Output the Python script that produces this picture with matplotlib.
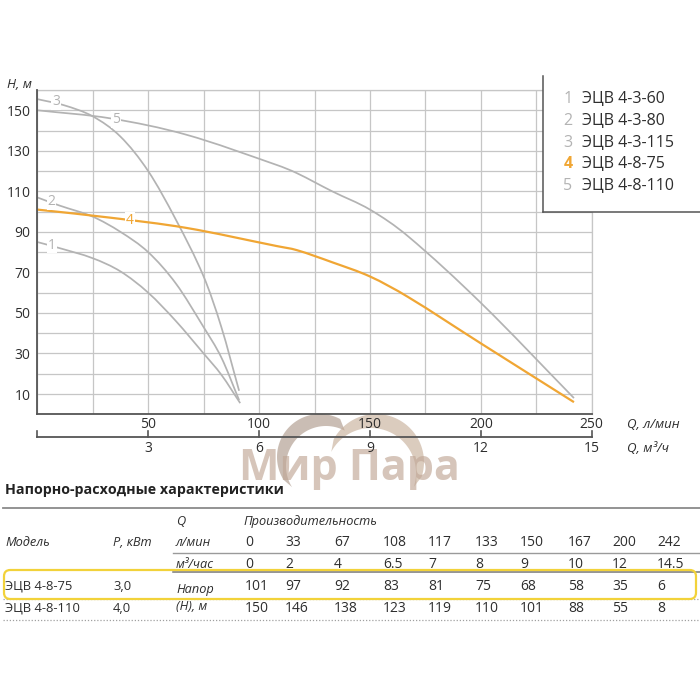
import numpy as np
import matplotlib
matplotlib.use('Agg')
import matplotlib.pyplot as plt
from matplotlib.patches import Rectangle, FancyBboxPatch, Polygon, PathPatch
from matplotlib.path import Path
from matplotlib.lines import Line2D
import matplotlib.transforms as mtransforms

plt.rcParams['font.family'] = ['Open Sans', 'DejaVu Sans']

# ---------------- data ----------------
legend_models = ['ЭЦВ 4-3-60', 'ЭЦВ 4-3-80', 'ЭЦВ 4-3-115', 'ЭЦВ 4-8-75', 'ЭЦВ 4-8-110']
curve_ids = ['1', '2', '3', '4', '5']

# curves (Q in l/min, H in m)
c1_q = [0, 10, 25, 37.5, 50, 62.5, 75, 83, 91.5]
c1_h = [85, 82, 77, 70.5, 60, 46, 30, 19.5, 5.5]
c2_q = [0, 10, 25, 37.5, 50, 62.5, 75, 83, 91]
c2_h = [107, 103, 97.5, 90, 80, 64.5, 43, 28, 7]
c3_q = [0, 12, 25, 37.5, 50, 62.5, 75, 83, 91]
c3_h = [155.5, 152.5, 147, 137, 120, 96, 68, 43, 11.6]

# table values
q_lmin = [0, 33, 67, 108, 117, 133, 150, 167, 200, 242]
q_m3h = ['0', '2', '4', '6.5', '7', '8', '9', '10', '12', '14.5']
h_75 = [101, 97, 92, 83, 81, 75, 68, 58, 35, 6]
h_110 = [150, 146, 138, 123, 119, 110, 101, 88, 55, 8]
table_models = ['ЭЦВ 4-8-75', 'ЭЦВ 4-8-110']
table_power = ['3,0', '4,0']

x_lmin_ticks = [50, 100, 150, 200, 250]
x_m3h_ticks = ['3', '6', '9', '12', '15']
y_label_ticks = [10, 30, 50, 70, 90, 110, 130, 150]

# ---------------- styling ----------------
GRAY = '#b3b3b3'
ORANGE = '#f0a634'
GRID = '#c6c6c6'
AXC = '#555555'
TXT = '#2e2e2e'

W = H = 700
fig = plt.figure(figsize=(7, 7), dpi=100)


def fx(x):
    return x / W


def fy(y):
    return 1 - y / H


def smooth_path(xs, ys):
    """Cubic Hermite (bezier) path through the given data points."""
    x = np.asarray(xs, float)
    y = np.asarray(ys, float)
    n = len(x)
    m = np.empty(n)
    m[0] = (y[1] - y[0]) / (x[1] - x[0])
    m[-1] = (y[-1] - y[-2]) / (x[-1] - x[-2])
    for i in range(1, n - 1):
        m[i] = (y[i + 1] - y[i - 1]) / (x[i + 1] - x[i - 1])
    verts = [(x[0], y[0])]
    codes = [Path.MOVETO]
    for i in range(n - 1):
        h = x[i + 1] - x[i]
        verts += [(x[i] + h / 3, y[i] + m[i] * h / 3),
                  (x[i + 1] - h / 3, y[i + 1] - m[i + 1] * h / 3),
                  (x[i + 1], y[i + 1])]
        codes += [Path.CURVE4] * 3
    return Path(verts, codes)


# watermark (behind everything)
def crescent(cx_o, cy_o, r_o, cx_i, cy_i, r_i, a0, a1, color, alpha):
    t = np.radians(np.linspace(a0, a1, 60))
    outer = np.column_stack([cx_o + r_o * np.cos(t), cy_o - r_o * np.sin(t)])
    inner = np.column_stack([cx_i + r_i * np.cos(t[::-1]), cy_i - r_i * np.sin(t[::-1])])
    pts = np.vstack([outer, inner])
    pts = np.column_stack([pts[:, 0] / W, 1 - pts[:, 1] / H])
    fig.patches.append(Polygon(pts, closed=True, transform=fig.transFigure,
                               facecolor=color, edgecolor='none', alpha=alpha, zorder=-1))


crescent(320, 457, 43, 326, 466, 40, 212, 62, '#a89282', 0.6)
crescent(376, 462, 48, 371, 473, 45, 152, -18, '#c4aa94', 0.6)
fig.text(fx(349), fy(468), 'Мир Пара', fontsize=31, fontweight='bold', color='#c0a796',
         alpha=0.65, ha='center', va='center', zorder=-1)

# main axes
ax = fig.add_axes([fx(37.3), fy(414.3), (591.7 - 37.3) / W, (414.3 - 90) / H])
ax.set_facecolor('none')
ax.set_xlim(0, 250)
ax.set_ylim(0, 160)
ax.set_xticks(np.arange(0, 251, 25))
ax.set_yticks(np.arange(0, 161, 10))
ax.set_xticklabels([])
ax.set_yticklabels([str(v) if v in y_label_ticks else '' for v in np.arange(0, 161, 10)])
ax.tick_params(length=0, labelsize=10, labelcolor=TXT, pad=5)
ax.grid(True, color=GRID, lw=0.9)
for s in ['top', 'right']:
    ax.spines[s].set_color(GRID)
    ax.spines[s].set_linewidth(0.9)
for s in ['left', 'bottom']:
    ax.spines[s].set_color(AXC)
    ax.spines[s].set_linewidth(1.3)
    ax.spines[s].set_zorder(5)

for qs, hs in [(c1_q, c1_h), (c2_q, c2_h), (c3_q, c3_h), (q_lmin, h_110)]:
    ax.add_patch(PathPatch(smooth_path(qs, hs), fill=False, edgecolor=GRAY, lw=1.25, zorder=3))
ax.add_patch(PathPatch(smooth_path(q_lmin, h_75), fill=False, edgecolor=ORANGE, lw=1.6, zorder=4))

lab_kw = dict(fontsize=10, ha='center', va='center', zorder=6,
              bbox=dict(fc='white', ec='none', pad=0.6))
ax.text(6.5, 83.5, '1', color=GRAY, **lab_kw)
ax.text(6.5, 104.9, '2', color=GRAY, **lab_kw)
ax.text(8.4, 154.2, '3', color=GRAY, **lab_kw)
ax.text(41.8, 95.8, '4', color=ORANGE, **lab_kw)
ax.text(35.5, 145.3, '5', color=GRAY, **lab_kw)

# y axis title
fig.text(fx(7), fy(84), 'H, м', fontsize=9.5, style='italic', color=TXT, va='center')

# secondary flow scale below the chart
bt = mtransforms.blended_transform_factory(ax.transData, fig.transFigure)
fig.add_artist(Line2D([0, 250], [fy(437)] * 2, transform=bt, color=AXC, lw=1.3))
for xv in [0] + x_lmin_ticks:
    fig.add_artist(Line2D([xv, xv], [fy(437), fy(431)], transform=bt, color=AXC, lw=1.2))
for xv, lab in zip(x_lmin_ticks, x_m3h_ticks):
    fig.text(xv, fy(424), str(xv), transform=bt, fontsize=10, color=TXT, ha='center', va='center')
    fig.text(xv, fy(449), lab, transform=bt, fontsize=10, color=TXT, ha='center', va='center')
fig.text(fx(627), fy(424), 'Q, л/мин', fontsize=9.5, style='italic', color=TXT, va='center')
fig.text(fx(627), fy(448), 'Q, м³/ч', fontsize=9.5, style='italic', color=TXT, va='center')

# legend box
fig.patches.append(Rectangle((fx(543), fy(212)), (700 - 543) / W, (212 - 76) / H,
                             transform=fig.transFigure, facecolor='white', edgecolor='none', zorder=5))
fig.add_artist(Line2D([fx(543), fx(543)], [fy(76), fy(212)], color=AXC, lw=1.1, zorder=6))
fig.add_artist(Line2D([fx(543), fx(700)], [fy(212), fy(212)], color=AXC, lw=1.1, zorder=6))
leg_colors = [GRAY, GRAY, GRAY, ORANGE, GRAY]
for i, (cid, name) in enumerate(zip(curve_ids, legend_models)):
    yy = 99.3 + i * 21.7
    fig.text(fx(568), fy(yy), cid, fontsize=11.5, color=leg_colors[i], ha='center', va='center',
             zorder=7, fontweight='bold' if cid == '4' else 'normal')
    fig.text(fx(582), fy(yy), name, fontsize=11.5, color=TXT, ha='left', va='center', zorder=7)

# ---------------- table ----------------
fig.text(fx(5), fy(490), 'Напорно-расходные характеристики', fontsize=10.3, fontweight='bold',
         color='#222222', va='center')
fig.add_artist(Line2D([fx(3), fx(700)], [fy(507.5)] * 2, color='#8a8a8a', lw=1.3))
fig.add_artist(Line2D([fx(173), fx(700)], [fy(552.5)] * 2, color='#9a9a9a', lw=1.0))
fig.add_artist(Line2D([fx(173), fx(700)], [fy(571.5)] * 2, color='#777777', lw=1.1))
fig.add_artist(Line2D([fx(3), fx(700)], [fy(598.5)] * 2, color='#a0a0a0', lw=0.9, ls=(0, (1, 1.5))))
fig.add_artist(Line2D([fx(3), fx(700)], [fy(620)] * 2, color='#a0a0a0', lw=0.9, ls=(0, (1, 1.5))))

fig.patches.append(FancyBboxPatch((fx(4), fy(599)), (696 - 4) / W, (599 - 570) / H,
                                  boxstyle='round,pad=0,rounding_size=0.009',
                                  transform=fig.transFigure, facecolor='none',
                                  edgecolor='#f2d23a', lw=1.6, zorder=3))

tk = dict(fontsize=10, color=TXT, va='center')
nk = dict(fontsize=9.4, color=TXT, va='center')
ik = dict(fontsize=9.2, color=TXT, va='center', style='italic')
fig.text(fx(176), fy(521.5), 'Q', **ik)
fig.text(fx(243), fy(521.5), 'Производительность', **ik)
fig.text(fx(5), fy(543), 'Модель', **ik)
fig.text(fx(113), fy(543), 'P, кВт', **ik)
fig.text(fx(176), fy(543), 'л/мин', **ik)
fig.text(fx(176), fy(564), 'м³/час', **ik)
fig.text(fx(176), fy(589), 'Напор', **ik)
fig.text(fx(176), fy(607), '(H), м', **ik)

col_x = [245, 285, 334, 383, 428, 475, 520, 568, 612, 657]
for cx, q, m, a, b in zip(col_x, q_lmin, q_m3h, h_75, h_110):
    fig.text(fx(cx), fy(543), str(q), **tk)
    fig.text(fx(cx), fy(564), m, **tk)
    fig.text(fx(cx), fy(586), str(a), **tk)
    fig.text(fx(cx), fy(608), str(b), **tk)

for yy, name, p in zip([586, 608], table_models, table_power):
    fig.text(fx(5), fy(yy), name, **nk)
    fig.text(fx(113), fy(yy), p, **nk)

fig.savefig('out.png', dpi=100)
